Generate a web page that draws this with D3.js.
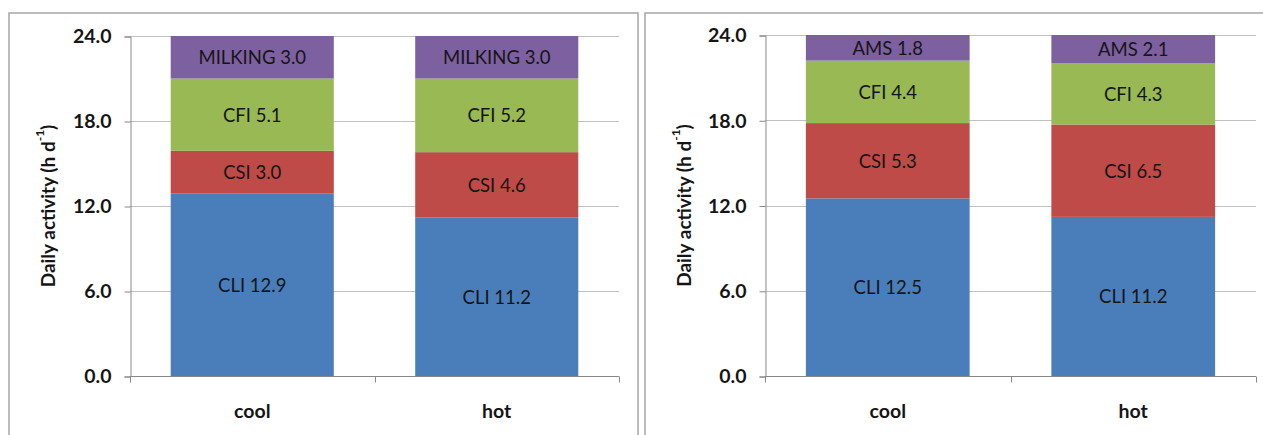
<!DOCTYPE html>
<html>
<head>
<meta charset="utf-8">
<script src="https://cdn.jsdelivr.net/npm/d3@7"></script>
<style>
  html, body { margin: 0; padding: 0; background: #fff; }
  svg { display: block; }
</style>
</head>
<body>
<svg id="chart" width="1263" height="435"></svg>
<script>
const categories = ["cool", "hot"];
const yTicks = [0, 6, 12, 18, 24];
const leftSeries = ["CLI", "CSI", "CFI", "MILKING"];
const leftValues = [[12.9, 11.2], [3.0, 4.6], [5.1, 5.2], [3.0, 3.0]];
const rightSeries = ["CLI", "CSI", "CFI", "AMS"];
const rightValues = [[12.5, 11.2], [5.3, 6.5], [4.4, 4.3], [1.8, 2.1]];
const colors = ["#4A7EBB", "#BE4B48", "#98B954", "#7D60A0"];
const yTitle = "Daily activity (h d";

const svg = d3.select("#chart");

function panel(cfg, series, values) {
  const g = svg.append("g");
  g.append("rect")
    .attr("x", cfg.bx).attr("y", cfg.by)
    .attr("width", cfg.bw).attr("height", cfg.bh)
    .attr("fill", "none").attr("stroke", "#a6a6a6").attr("stroke-width", 1.5);

  const x = d3.scaleBand().domain(categories).range([cfg.x0, cfg.x1]).paddingInner(0.333).paddingOuter(0.1665);
  const y = d3.scaleLinear().domain([0, 24]).range([cfg.y0, cfg.y1]).clamp(true);

  g.append("g").selectAll("line").data(yTicks.filter(t => t > 0)).join("line")
    .attr("x1", cfg.x0).attr("x2", cfg.x1)
    .attr("y1", d => Math.round(y(d)) + 0.5).attr("y2", d => Math.round(y(d)) + 0.5)
    .attr("stroke", "#c0c0c0").attr("stroke-width", 1);

  const rows = categories.map((c, i) => {
    const r = { cat: c };
    series.forEach((s, k) => r[s] = values[k][i]);
    return r;
  });
  const stacked = d3.stack().keys(series)(rows);

  stacked.forEach((layer, k) => {
    const lg = g.append("g");
    lg.selectAll("rect").data(layer).join("rect")
      .attr("x", d => x(d.data.cat))
      .attr("width", x.bandwidth())
      .attr("y", d => y(d[1]))
      .attr("height", d => y(d[0]) - y(d[1]))
      .attr("fill", colors[k]);
    lg.selectAll("text").data(layer).join("text")
      .attr("x", d => x(d.data.cat) + x.bandwidth() / 2)
      .attr("y", d => (y(d[0]) + y(d[1])) / 2)
      .attr("text-anchor", "middle")
      .attr("dominant-baseline", "central")
      .attr("font-family", "Lato, 'Open Sans', sans-serif")
      .attr("font-size", 18.5)
      .attr("fill", "#151515")
      .text(d => `${layer.key} ${d.data[layer.key].toFixed(1)}`);
  });

  const yAxis = d3.axisLeft(y).tickValues(yTicks).tickFormat(d3.format(".1f")).tickSize(6).tickPadding(13);
  const ya = g.append("g").attr("transform", `translate(${cfg.x0 + 0.5},0.5)`).call(yAxis);
  ya.select(".domain").attr("stroke", "#888");
  ya.selectAll(".tick line").attr("stroke", "#888");
  ya.selectAll(".tick text")
    .attr("font-family", "Lato, sans-serif").attr("font-weight", "bold")
    .attr("font-size", 19.5).attr("fill", "#151515");

  const xa = g.append("g").attr("transform", `translate(0,${cfg.y0 + 0.5})`);
  xa.append("line").attr("x1", cfg.x0).attr("x2", cfg.x1).attr("stroke", "#888");
  const bounds = [cfg.x0, (cfg.x0 + cfg.x1) / 2, cfg.x1];
  xa.selectAll("line.tk").data(bounds).join("line").attr("class", "tk")
    .attr("x1", d => Math.round(d) + 0.5).attr("x2", d => Math.round(d) + 0.5)
    .attr("y1", 0).attr("y2", 6).attr("stroke", "#888");
  xa.selectAll("text").data(categories).join("text")
    .attr("x", d => x(d) + x.bandwidth() / 2)
    .attr("y", 41)
    .attr("text-anchor", "middle")
    .attr("font-family", "Lato, sans-serif").attr("font-weight", "bold")
    .attr("font-size", 19.5).attr("fill", "#151515")
    .text(d => d);

  const t = g.append("text")
    .attr("transform", `translate(${cfg.tx},${(cfg.y0 + cfg.y1) / 2}) rotate(-90)`)
    .attr("text-anchor", "middle")
    .attr("dominant-baseline", "central")
    .attr("font-family", "Lato, sans-serif").attr("font-weight", "bold")
    .attr("font-size", 19).attr("fill", "#151515");
  t.append("tspan").text(yTitle);
  t.append("tspan").attr("baseline-shift", "super").attr("font-size", 12).text("-1");
  t.append("tspan").text(")");
}

panel({ bx: 9, by: 13, bw: 629, bh: 440, x0: 130, x1: 619, y0: 376, y1: 36, tx: 47 }, leftSeries, leftValues);
panel({ bx: 645, by: 13, bw: 640, bh: 440, x0: 765, x1: 1256, y0: 376, y1: 35, tx: 683 }, rightSeries, rightValues);
</script>
</body>
</html>
